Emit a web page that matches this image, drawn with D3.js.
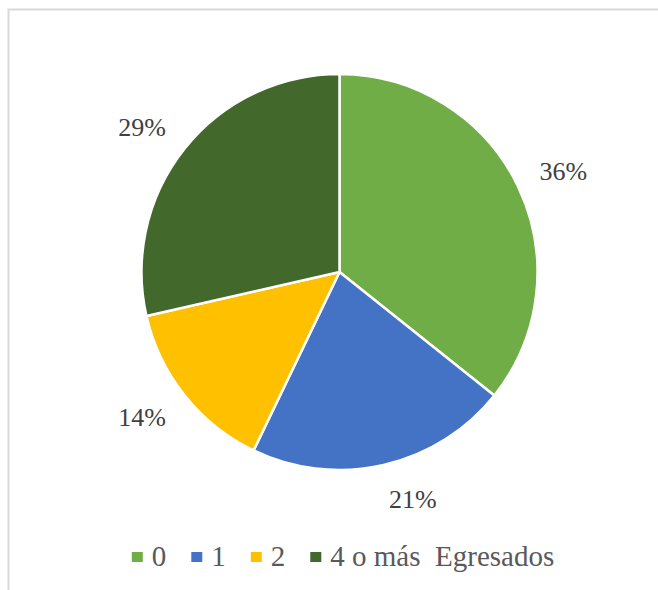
<!DOCTYPE html>
<html>
<head>
<meta charset="utf-8">
<script src="https://cdn.jsdelivr.net/npm/d3@7"></script>
<style>
  html, body { margin: 0; padding: 0; background: #fff; }
  svg { display: block; }
</style>
</head>
<body>
<svg id="chart" width="658" height="590"></svg>
<script>
const categories = ["0", "1", "2", "4 o más  Egresados"];
const values = [5, 3, 2, 4];
const percentLabels = ["36%", "21%", "14%", "29%"];
const colors = ["#70ad47", "#4472c4", "#ffc000", "#43682b"];

const FONT = "'Liberation Serif', 'Times New Roman', 'DejaVu Serif', serif";
const svg = d3.select("#chart");

// chart area border (top and left visible)
svg.append("rect")
  .attr("x", 8.5).attr("y", 9.5)
  .attr("width", 800).attr("height", 800)
  .attr("fill", "none")
  .attr("stroke", "#d9d9d9")
  .attr("stroke-width", 2);

const cx = 339.5, cy = 272, R = 198;
const g = svg.append("g").attr("transform", `translate(${cx},${cy})`);

const pie = d3.pie().sort(null).value(d => d)(values);
const arc = d3.arc().innerRadius(0).outerRadius(R);

g.selectAll("path.slice")
  .data(pie)
  .join("path")
  .attr("class", "slice")
  .attr("d", arc)
  .attr("fill", (d, i) => colors[i])
  .attr("stroke", "#fff")
  .attr("stroke-width", 2.5)
  .attr("stroke-linejoin", "round");

// outside-end labels
const pad = 24;
const fs = 26;
g.selectAll("text.lbl")
  .data(pie)
  .join("text")
  .attr("class", "lbl")
  .attr("font-family", FONT)
  .attr("font-size", fs)
  .attr("fill", "#404040")
  .attr("text-anchor", "middle")
  .text((d, i) => percentLabels[i])
  .each(function(d) {
    const t = d3.select(this);
    const w = this.getComputedTextLength();
    const h = 22;
    const a = (d.startAngle + d.endAngle) / 2;
    const s = Math.sin(a), c = Math.cos(a);
    const x = (R + pad) * s + (w / 2) * Math.sign(s);
    const y = -(R + pad) * c - (h / 2) * c;
    t.attr("x", x).attr("y", y + 9);
  });

// legend
const legendFs = 29;
const legend = svg.append("g");
const items = legend.selectAll("g.item")
  .data(categories)
  .join("g")
  .attr("class", "item");
items.append("rect")
  .attr("width", 11).attr("height", 10)
  .attr("y", -14)
  .attr("fill", (d, i) => colors[i]);
items.append("text")
  .attr("x", 20)
  .attr("font-family", FONT)
  .attr("font-size", legendFs)
  .attr("fill", "#595959")
  .style("white-space", "pre")
  .attr("xml:space", "preserve")
  .text(d => d);
let xoff = 0;
const gap = 25;
items.each(function() {
  const tw = d3.select(this).select("text").node().getComputedTextLength();
  d3.select(this).attr("transform", `translate(${xoff},0)`);
  xoff += 20 + tw + gap;
});
const totalW = xoff - gap;
legend.attr("transform", `translate(${343 - totalW / 2},566)`);
</script>
</body>
</html>
